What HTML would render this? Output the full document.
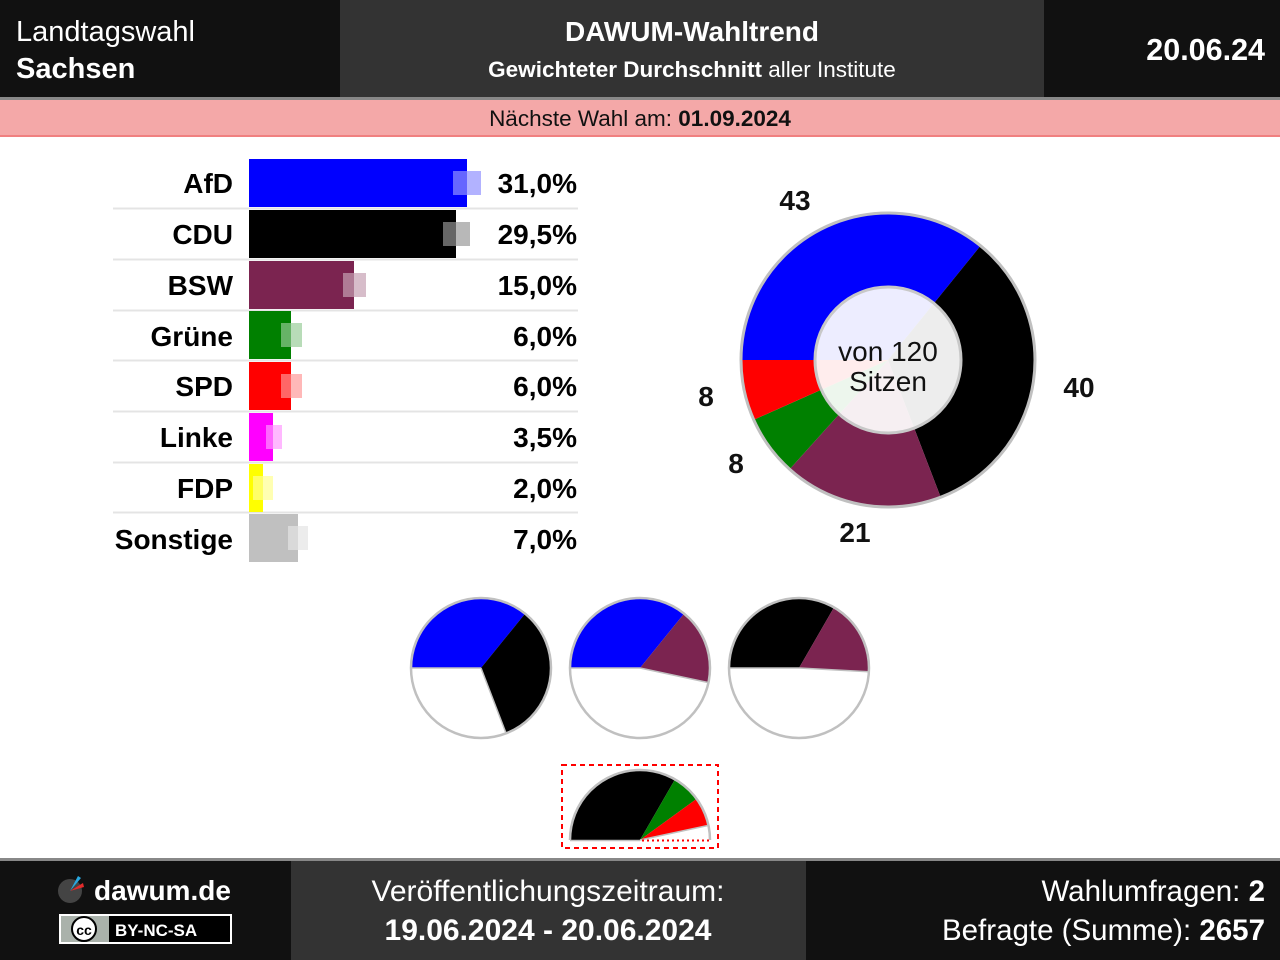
<!DOCTYPE html>
<html><head><meta charset="utf-8"><style>
html,body{margin:0;padding:0;background:#fff;}
svg{display:block;font-family:"Liberation Sans",Arial,sans-serif;}
</style></head><body>
<svg width="1280" height="960" viewBox="0 0 1280 960" xmlns="http://www.w3.org/2000/svg">
<rect x="0" y="0" width="1280" height="98" fill="#111"/>
<rect x="340" y="0" width="704" height="98" fill="#333"/>
<rect x="0" y="97" width="1280" height="3" fill="#888"/>
<rect x="0" y="100" width="1280" height="37" fill="#f4a8a8"/>
<rect x="0" y="135" width="1280" height="2" fill="#f08080"/>
<text x="16" y="41" font-size="29" fill="#fff">Landtagswahl</text>
<text x="16" y="78" font-size="29" font-weight="bold" fill="#fff">Sachsen</text>
<text x="692" y="41" font-size="28" font-weight="bold" fill="#fff" text-anchor="middle">DAWUM-Wahltrend</text>
<text x="692" y="77" font-size="22.5" fill="#fff" text-anchor="middle"><tspan font-weight="bold">Gewichteter Durchschnitt</tspan> aller Institute</text>
<text x="1265" y="60" font-size="30.5" font-weight="bold" fill="#fff" text-anchor="end">20.06.24</text>
<text x="640" y="126" font-size="22.5" fill="#111" text-anchor="middle">Nächste Wahl am: <tspan font-weight="bold">01.09.2024</tspan></text>

<g stroke="#e4e4e4" stroke-width="2">
<line x1="113" y1="208.5" x2="578" y2="208.5"/><line x1="113" y1="259.5" x2="578" y2="259.5"/>
<line x1="113" y1="310.5" x2="578" y2="310.5"/><line x1="113" y1="360.5" x2="578" y2="360.5"/>
<line x1="113" y1="411.5" x2="578" y2="411.5"/><line x1="113" y1="462.5" x2="578" y2="462.5"/>
<line x1="113" y1="512.5" x2="578" y2="512.5"/>
</g>
<g font-size="28" font-weight="bold" fill="#000">
<text x="233" y="193" text-anchor="end">AfD</text>
<text x="233" y="244" text-anchor="end">CDU</text>
<text x="233" y="295" text-anchor="end">BSW</text>
<text x="233" y="346" text-anchor="end">Grüne</text>
<text x="233" y="396" text-anchor="end">SPD</text>
<text x="233" y="447" text-anchor="end">Linke</text>
<text x="233" y="498" text-anchor="end">FDP</text>
<text x="233" y="549" text-anchor="end">Sonstige</text>
<text x="577" y="193" text-anchor="end">31,0%</text>
<text x="577" y="244" text-anchor="end">29,5%</text>
<text x="577" y="295" text-anchor="end">15,0%</text>
<text x="577" y="346" text-anchor="end">6,0%</text>
<text x="577" y="396" text-anchor="end">6,0%</text>
<text x="577" y="447" text-anchor="end">3,5%</text>
<text x="577" y="498" text-anchor="end">2,0%</text>
<text x="577" y="549" text-anchor="end">7,0%</text>
</g>
<rect x="249" y="159" width="218" height="48" fill="#0000ff"/>
<rect x="249" y="210" width="207" height="48" fill="#000"/>
<rect x="249" y="261" width="105" height="48" fill="#7b2450"/>
<rect x="249" y="311" width="42" height="48" fill="#008000"/>
<rect x="249" y="362" width="42" height="48" fill="#ff0000"/>
<rect x="249" y="413" width="24" height="48" fill="#ff00ff"/>
<rect x="249" y="464" width="14" height="48" fill="#ffff00"/>
<rect x="249" y="514" width="49" height="48" fill="#c0c0c0"/>
<g>
<rect x="453" y="171" width="28" height="24" fill="#0000ff" opacity="0.3"/><rect x="453" y="171" width="14" height="24" fill="#fff" opacity="0.4"/>
<rect x="443" y="222" width="27" height="24" fill="#000" opacity="0.28"/><rect x="443" y="222" width="13" height="24" fill="#fff" opacity="0.4"/>
<rect x="343" y="273" width="23" height="24" fill="#7b2450" opacity="0.3"/><rect x="343" y="273" width="11" height="24" fill="#fff" opacity="0.4"/>
<rect x="281" y="323" width="21" height="24" fill="#008000" opacity="0.28"/><rect x="281" y="323" width="10" height="24" fill="#fff" opacity="0.4"/>
<rect x="281" y="374" width="21" height="24" fill="#ff0000" opacity="0.28"/><rect x="281" y="374" width="10" height="24" fill="#fff" opacity="0.4"/>
<rect x="266" y="425" width="16" height="24" fill="#ff00ff" opacity="0.28"/><rect x="266" y="425" width="7" height="24" fill="#fff" opacity="0.4"/>
<rect x="253" y="476" width="20" height="24" fill="#ffff00" opacity="0.3"/><rect x="253" y="476" width="10" height="24" fill="#fff" opacity="0.4"/>
<rect x="288" y="526" width="20" height="24" fill="#c0c0c0" opacity="0.3"/><rect x="288" y="526" width="10" height="24" fill="#fff" opacity="0.4"/>
</g>

<g>
<path d="M888 360 L741 360 A147 147 0 0 1 980.5 245.8 Z" fill="#0000ff"/>
<path d="M888 360 L980.5 245.8 A147 147 0 0 1 940.7 497.2 Z" fill="#000"/>
<path d="M888 360 L940.7 497.2 A147 147 0 0 1 789.6 469.2 Z" fill="#7b2450"/>
<path d="M888 360 L789.6 469.2 A147 147 0 0 1 753.7 419.8 Z" fill="#008000"/>
<path d="M888 360 L753.7 419.8 A147 147 0 0 1 741 360 Z" fill="#ff0000"/>
<circle cx="888" cy="360" r="147" fill="none" stroke="#c0c0c0" stroke-width="3"/>
<circle cx="888" cy="360" r="73" fill="#fff" fill-opacity="0.93" stroke="#c8c8c8" stroke-width="3"/>
</g>
<text x="888" y="361" font-size="28" text-anchor="middle" fill="#111">von 120</text>
<text x="888" y="391" font-size="28" text-anchor="middle" fill="#111">Sitzen</text>
<g font-size="28" font-weight="bold" fill="#111" text-anchor="middle">
<text x="795" y="210">43</text>
<text x="1079" y="397">40</text>
<text x="855" y="542">21</text>
<text x="706" y="406">8</text>
<text x="736" y="473">8</text>
</g>

<g stroke="none">
<circle cx="481" cy="668" r="70" fill="#fff"/>
<path d="M481 668 L411 668 A70 70 0 0 1 525.1 613.6 Z" fill="#0000ff"/>
<path d="M481 668 L525.1 613.6 A70 70 0 0 1 506.1 733.4 Z" fill="#000"/>
<circle cx="481" cy="668" r="70" fill="none" stroke="#c0c0c0" stroke-width="2.5"/>
<line x1="411" y1="668" x2="481" y2="668" stroke="#c0c0c0" stroke-width="1.5"/>
<line x1="481" y1="668" x2="506.1" y2="733.4" stroke="#c0c0c0" stroke-width="1.5"/>

<circle cx="640" cy="668" r="70" fill="#fff"/>
<path d="M640 668 L570 668 A70 70 0 0 1 684.1 613.6 Z" fill="#0000ff"/>
<path d="M640 668 L684.1 613.6 A70 70 0 0 1 708.5 682.6 Z" fill="#7b2450"/>
<circle cx="640" cy="668" r="70" fill="none" stroke="#c0c0c0" stroke-width="2.5"/>
<line x1="570" y1="668" x2="640" y2="668" stroke="#c0c0c0" stroke-width="1.5"/>
<line x1="640" y1="668" x2="708.5" y2="682.6" stroke="#c0c0c0" stroke-width="1.5"/>

<circle cx="799" cy="668" r="70" fill="#fff"/>
<path d="M799 668 L729 668 A70 70 0 0 1 834 607.4 Z" fill="#000"/>
<path d="M799 668 L834 607.4 A70 70 0 0 1 868.9 671.7 Z" fill="#7b2450"/>
<circle cx="799" cy="668" r="70" fill="none" stroke="#c0c0c0" stroke-width="2.5"/>
<line x1="729" y1="668" x2="799" y2="668" stroke="#c0c0c0" stroke-width="1.5"/>
<line x1="799" y1="668" x2="868.9" y2="671.7" stroke="#c0c0c0" stroke-width="1.5"/>

<path d="M640 840 L570 840 A70 70 0 0 1 675 779.4 Z" fill="#000"/>
<path d="M640 840 L675 779.4 A70 70 0 0 1 696.6 798.9 Z" fill="#008000"/>
<path d="M640 840 L696.6 798.9 A70 70 0 0 1 708.5 825.4 Z" fill="#ff0000"/>
<path d="M570 840 A70 70 0 0 1 710 840" fill="none" stroke="#c0c0c0" stroke-width="2.5"/>
<line x1="640" y1="840" x2="708.5" y2="825.4" stroke="#c0c0c0" stroke-width="1.5"/>
<line x1="570" y1="840.5" x2="640" y2="840.5" stroke="#c0c0c0" stroke-width="1.5"/>
<line x1="642" y1="840.5" x2="710" y2="840.5" stroke="#ff0000" stroke-width="2" stroke-dasharray="2,3"/>
<rect x="562" y="765" width="156" height="83" fill="none" stroke="#ff0000" stroke-width="2" stroke-dasharray="5,4"/>
</g>

<rect x="0" y="858" width="1280" height="102" fill="#111"/>
<rect x="0" y="858" width="1280" height="3" fill="#888"/>
<rect x="291" y="861" width="515" height="99" fill="#333"/>
<circle cx="70" cy="891" r="12" fill="#444"/>
<path d="M70 891 L78 876 L81 878 Z" fill="#29a8e0"/>
<path d="M70 891 L83 883 L84 887 Z" fill="#e52b2b"/>
<text x="94" y="900" font-size="28" font-weight="bold" fill="#fff">dawum.de</text>
<rect x="60" y="915" width="171" height="28" fill="#000" stroke="#fff" stroke-width="2"/>
<rect x="61" y="916" width="48" height="26" fill="#aab2ab"/>
<circle cx="84" cy="929" r="12" fill="#fff" stroke="#000" stroke-width="2"/>
<text x="84" y="935" font-size="14" font-weight="bold" text-anchor="middle" fill="#000">cc</text>
<text x="115" y="936" font-size="17" font-weight="bold" fill="#fff">BY-NC-SA</text>
<text x="548" y="901" font-size="30" fill="#fff" text-anchor="middle">Veröffentlichungszeitraum:</text>
<text x="548" y="940" font-size="30" font-weight="bold" fill="#fff" text-anchor="middle">19.06.2024 - 20.06.2024</text>
<text x="1265" y="901" font-size="29.5" fill="#fff" text-anchor="end">Wahlumfragen: <tspan font-weight="bold">2</tspan></text>
<text x="1265" y="940" font-size="29.5" fill="#fff" text-anchor="end">Befragte (Summe): <tspan font-weight="bold">2657</tspan></text>
</svg>
</body></html>
